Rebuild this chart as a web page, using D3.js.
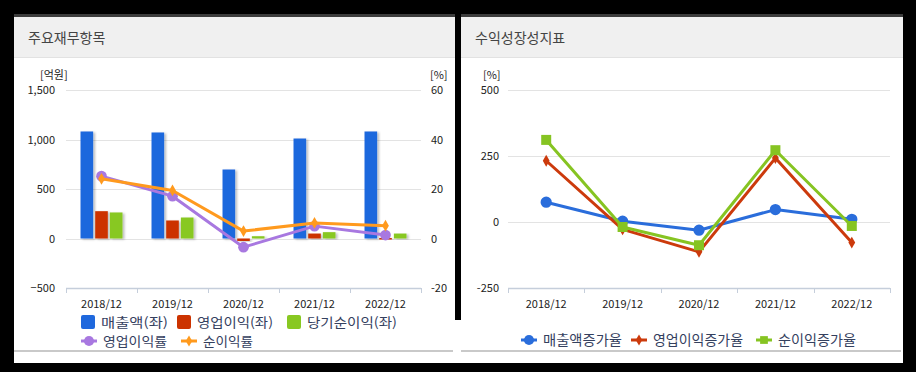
<!DOCTYPE html>
<html>
<head>
<meta charset="utf-8">
<script src="https://cdn.jsdelivr.net/npm/d3@7"></script>
<style>
    body { margin: 0; background: #000; }
    svg { display: block; }
    text { font-family: "Noto Sans CJK KR", "Noto Sans", sans-serif; }
</style>
</head>
<body>
<div id="chart"></div>
<script>
// categories (shared)
var years = ["2018/12", "2019/12", "2020/12", "2021/12", "2022/12"];

// left chart: 주요재무항목 (bars in 억원, lines in %)
var sales = [1081, 1071, 697, 1010, 1081];
var opProfit = [276, 182, -25, 50, 5];
var netProfit = [263, 212, 23, 64, 50];
var opMargin = [25.2, 17.1, -3.5, 5.0, 1.4];
var netMargin = [24.1, 19.4, 3.0, 6.3, 5.2];
var leftTicks = [-500, 0, 500, 1000, 1500];
var rightTicks = [-20, 0, 20, 40, 60];

// right chart: 수익성장성지표 (%)
var salesGrowth = [75, 3, -31, 47, 10];
var opGrowth = [232, -28, -113, 242, -78];
var netGrowth = [311, -19, -88, 272, -15];
var growthTicks = [-250, 0, 250, 500];

var svg = d3.select("#chart").append("svg")
    .attr("width", 916)
    .attr("height", 372);

// soft bar shadow
var defs = svg.append("defs");
var f = defs.append("filter").attr("id", "shadow").attr("x", "-30%").attr("y", "-10%").attr("width", "160%").attr("height", "130%");
f.append("feDropShadow").attr("dx", 2).attr("dy", 1).attr("stdDeviation", 1).attr("flood-color", "#000").attr("flood-opacity", 0.25);

/*
    Panel frame: white card, dark top rule, grey header strip, grey bottom rule
*/
function drawPanel(x0, x1, title) {
    svg.append("rect").attr("x", x0).attr("y", 14).attr("width", x1 - x0).attr("height", 349).attr("fill", "#fff");
    svg.append("rect").attr("x", x0).attr("y", 17).attr("width", x1 - x0).attr("height", 40).attr("fill", "#f0f0f0");
    svg.append("rect").attr("x", x0).attr("y", 14).attr("width", x1 - x0).attr("height", 3).attr("fill", "#3c3c3c");
    svg.append("line").attr("x1", x0).attr("x2", x1).attr("y1", 57.5).attr("y2", 57.5).attr("stroke", "#e2e2e2");
    svg.append("rect").attr("x", x0).attr("y", 350).attr("width", x1 - x0 - 2).attr("height", 2).attr("fill", "#c9c9c9");
    svg.append("text").attr("x", x0 + 14).attr("y", 43).attr("font-size", "14px").attr("fill", "#444").text(title);
}

drawPanel(14, 455, "주요재무항목");
drawPanel(461, 903, "수익성장성지표");
// the gap between the cards is black at the top, white near the bottom
svg.append("rect").attr("x", 455).attr("y", 320).attr("width", 6).attr("height", 43).attr("fill", "#fff");

var gridColor = "#e3e3e3";
var axisColor = "#c5cedb";
var legendText = "#34405e";

/* ---------------- left chart ---------------- */
var lx = d3.scaleBand().domain(years).range([66, 421]);
var lyL = d3.scaleLinear().domain([-500, 1500]).range([288, 90]);
var lyR = d3.scaleLinear().domain([-20, 60]).range([288, 90]);
var barSeries = ["sales", "op", "net"];
var lxs = d3.scaleBand().domain(barSeries).range([-21, 21]).paddingInner(0.14);

var left = svg.append("g");

left.selectAll(".grid").data(leftTicks.filter(function(d) { return d > -500; }))
    .enter().append("line")
    .attr("x1", 66).attr("x2", 421)
    .attr("y1", function(d) { return Math.round(lyL(d)) + 0.5; })
    .attr("y2", function(d) { return Math.round(lyL(d)) + 0.5; })
    .attr("stroke", gridColor);

// bottom axis with category ticks
var lAxis = left.append("g").attr("transform", "translate(0," + (Math.round(lyL(-500)) + 0.5) + ")")
    .call(d3.axisBottom(lx).tickSize(0).tickPadding(12));
lAxis.select(".domain").attr("stroke", axisColor).attr("stroke-width", 1.5).attr("d", "M66,0H421");
lAxis.selectAll(".tick text").attr("font-size", "11px").attr("fill", "#222")
    .style("font-family", "'Noto Sans CJK KR'");
left.selectAll(".sep").data(years.concat(["end"]))
    .enter().append("line")
    .attr("x1", function(d, i) { return Math.round(66 + i * lx.bandwidth()) + 0.5; })
    .attr("x2", function(d, i) { return Math.round(66 + i * lx.bandwidth()) + 0.5; })
    .attr("y1", lyL(-500)).attr("y2", lyL(-500) + 5)
    .attr("stroke", axisColor);

// y labels
left.selectAll(".ylab").data(leftTicks).enter().append("text")
    .attr("x", 55).attr("y", function(d) { return lyL(d) + 4; })
    .attr("text-anchor", "end").attr("font-size", "11px").attr("fill", "#222")
    .text(function(d) { return d3.format(",")(d); });
left.selectAll(".ylabR").data(rightTicks).enter().append("text")
    .attr("x", 431).attr("y", function(d) { return lyR(d) + 4; })
    .attr("font-size", "11px").attr("fill", "#222")
    .text(function(d) { return d; });
left.append("text").attr("x", 40).attr("y", 79).attr("font-size", "11px").attr("fill", "#222").text("[억원]");
left.append("text").attr("x", 430).attr("y", 79).attr("font-size", "11px").attr("fill", "#222").text("[%]");

var barColors = { sales: "#1f68dd", op: "#cc3300", net: "#88c822" };
var barData = [];
years.forEach(function(y, i) {
    barData.push({ year: y, key: "sales", value: sales[i] });
    barData.push({ year: y, key: "op", value: opProfit[i] });
    barData.push({ year: y, key: "net", value: netProfit[i] });
});

left.selectAll(".bar").data(barData).enter().append("rect")
    .attr("x", function(d) { return lx(d.year) + lx.bandwidth() / 2 + lxs(d.key); })
    .attr("y", function(d) { return lyL(Math.max(0, d.value)); })
    .attr("width", lxs.bandwidth())
    .attr("height", function(d) { return Math.max(1.5, Math.abs(lyL(d.value) - lyL(0))); })
    .attr("fill", function(d) { return barColors[d.key]; })
    .attr("filter", "url(#shadow)");

function cx(scale, y) { return scale(y) + scale.bandwidth() / 2; }

function drawLine(g, xScale, yScale, values, color, marker, size) {
    var pts = values.map(function(v, i) { return [cx(xScale, years[i]), yScale(v)]; });
    g.append("path").attr("d", d3.line()(pts))
        .attr("fill", "none").attr("stroke", color).attr("stroke-width", 3)
        .attr("stroke-linejoin", "round");
    g.selectAll(null).data(pts).enter().append("path")
        .attr("transform", function(p) { return "translate(" + p[0] + "," + p[1] + ")"; })
        .attr("d", d3.symbol().type(marker).size(size))
        .attr("fill", color);
}

drawLine(left, lx, lyR, opMargin, "#a878e0", d3.symbolCircle, 90);
drawLine(left, lx, lyR, netMargin, "#ff9a1e", d3.symbolDiamond, 40);

// legend helpers: widths taken from the reference so the items keep their places
function legendLabel(g, x, y, label, width, fontSize) {
    g.append("text").attr("x", x).attr("y", y).attr("font-size", fontSize).attr("fill", legendText)
        .attr("textLength", width).attr("lengthAdjust", "spacingAndGlyphs").text(label);
}

function legendLine(g, k, y, fontSize) {
    g.append("line").attr("x1", k.x).attr("x2", k.x + 16).attr("y1", y).attr("y2", y)
        .attr("stroke", k.color).attr("stroke-width", 3);
    g.append("path").attr("transform", "translate(" + (k.x + 8) + "," + y + ")")
        .attr("d", d3.symbol().type(k.marker).size(k.size)).attr("fill", k.color);
    legendLabel(g, k.x + 22, y + 5, k.label, k.w, fontSize);
}

// left legend
var legL = svg.append("g");
var boxes = [
    { label: "매출액(좌)", color: barColors.sales, x: 81, w: 67 },
    { label: "영업이익(좌)", color: barColors.op, x: 177, w: 76 },
    { label: "당기순이익(좌)", color: barColors.net, x: 287, w: 90 }
];
boxes.forEach(function(b) {
    legL.append("rect").attr("x", b.x).attr("y", 315).attr("width", 14).attr("height", 14)
        .attr("rx", 2).attr("fill", b.color);
    legendLabel(legL, b.x + 20, 327, b.label, b.w, "13px");
});
[
    { label: "영업이익률", color: "#a878e0", marker: d3.symbolCircle, size: 80, x: 81, w: 64 },
    { label: "순이익률", color: "#ff9a1e", marker: d3.symbolDiamond, size: 36, x: 181, w: 50 }
].forEach(function(k) { legendLine(legL, k, 341, "13px"); });

/* ---------------- right chart ---------------- */
var rx = d3.scaleBand().domain(years).range([508, 890]);
var ry = d3.scaleLinear().domain([-250, 500]).range([288, 90]);
var right = svg.append("g");

right.selectAll(".grid").data(growthTicks.filter(function(d) { return d > -250; }))
    .enter().append("line")
    .attr("x1", 508).attr("x2", 890)
    .attr("y1", function(d) { return Math.round(ry(d)) + 0.5; })
    .attr("y2", function(d) { return Math.round(ry(d)) + 0.5; })
    .attr("stroke", gridColor);

var rAxis = right.append("g").attr("transform", "translate(0," + (Math.round(ry(-250)) + 0.5) + ")")
    .call(d3.axisBottom(rx).tickSize(0).tickPadding(12));
rAxis.select(".domain").attr("stroke", axisColor).attr("stroke-width", 1.5).attr("d", "M508,0H890");
rAxis.selectAll(".tick text").attr("font-size", "11px").attr("fill", "#222")
    .style("font-family", "'Noto Sans CJK KR'");
right.selectAll(".sep").data(years.concat(["end"]))
    .enter().append("line")
    .attr("x1", function(d, i) { return Math.round(508 + i * rx.bandwidth()) + 0.5; })
    .attr("x2", function(d, i) { return Math.round(508 + i * rx.bandwidth()) + 0.5; })
    .attr("y1", ry(-250)).attr("y2", ry(-250) + 5)
    .attr("stroke", axisColor);

right.selectAll(".ylab").data(growthTicks).enter().append("text")
    .attr("x", 499).attr("y", function(d) { return ry(d) + 4; })
    .attr("text-anchor", "end").attr("font-size", "11px").attr("fill", "#222")
    .text(function(d) { return d; });
right.append("text").attr("x", 483).attr("y", 79).attr("font-size", "11px").attr("fill", "#222").text("[%]");

drawLine(right, rx, ry, salesGrowth, "#2a6ddb", d3.symbolCircle, 100);
drawLine(right, rx, ry, opGrowth, "#cc3a0c", d3.symbolDiamond, 40);
drawLine(right, rx, ry, netGrowth, "#86c422", d3.symbolSquare, 100);

var legR = svg.append("g");
[
    { label: "매출액증가율", color: "#2a6ddb", marker: d3.symbolCircle, size: 80, x: 521, w: 79 },
    { label: "영업이익증가율", color: "#cc3a0c", marker: d3.symbolDiamond, size: 36, x: 631, w: 90 },
    { label: "순이익증가율", color: "#86c422", marker: d3.symbolSquare, size: 60, x: 756, w: 78 }
].forEach(function(k) { legendLine(legR, k, 340, "13.5px"); });
</script>
</body>
</html>
